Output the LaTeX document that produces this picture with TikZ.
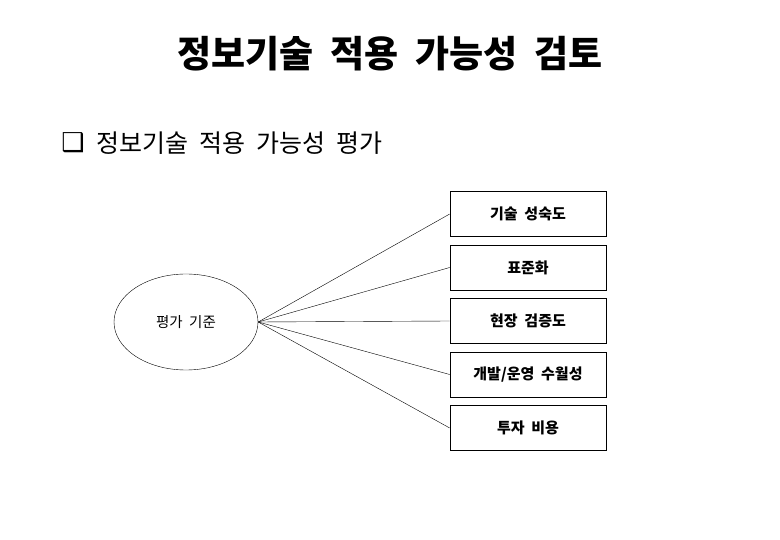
\documentclass[tikz,border=0pt]{standalone}
\usepackage{fontspec}
\setmainfont{Noto Sans CJK KR}
\newfontfamily\krfont{Noto Sans CJK KR}
\newfontfamily\symfont{DejaVu Sans}
\usetikzlibrary{shapes,positioning}
\newcommand{\wsp}{\hspace{0.45em}}
\tikzset{%
  block/.style    = {draw, semithick, rectangle, minimum height = 45pt,
    minimum width = 156pt, font=\fontsize{15}{17}\selectfont\bfseries}, % Criterion box
  crit/.style     = {draw, ellipse, minimum width = 144pt, minimum height = 96pt,
    font=\fontsize{14.5}{17}\selectfont}, % Centre
  heading/.style  = {inner sep=0pt, font=\krfont\fontsize{37}{40}\selectfont\bfseries},
  subhead/.style  = {inner sep=0pt, anchor=west, font=\krfont\fontsize{25}{28}\selectfont}
}

\begin{document}
\begin{tikzpicture}[x=1pt, y=-1pt, auto, node distance=53.5pt]

  \useasboundingbox (0,0) rectangle (780,540);

  \draw node at (390,54) [heading] (title) {정보기술\wsp 적용\wsp 가능성\wsp 검토};
  \draw node at (73,143) [inner sep=0pt, font=\symfont\fontsize{26}{28}\selectfont] (bullet) {❑};
  \draw node at (96,143) [subhead] (sub) {정보기술\wsp 적용\wsp 가능성\wsp 평가};

  \draw node at (186,322) [crit] (base) {평가\wsp 기준};
  \draw node at (528,214) [block] (mat) {기술\wsp 성숙도};
  \draw node [block, below of= mat] (std) {표준화};
  \draw node [block, below of= std] (field) {현장\wsp 검증도};
  \draw node [block, below of= field] (dev) {개발/운영\wsp 수월성};
  \draw node [block, below of= dev] (cost) {투자\wsp 비용};

  \draw (base.east) -- (mat.west);
  \draw (base.east) -- (std.west);
  \draw (base.east) -- (field.west);
  \draw (base.east) -- (dev.west);
  \draw (base.east) -- (cost.west);

\end{tikzpicture}
\end{document}
